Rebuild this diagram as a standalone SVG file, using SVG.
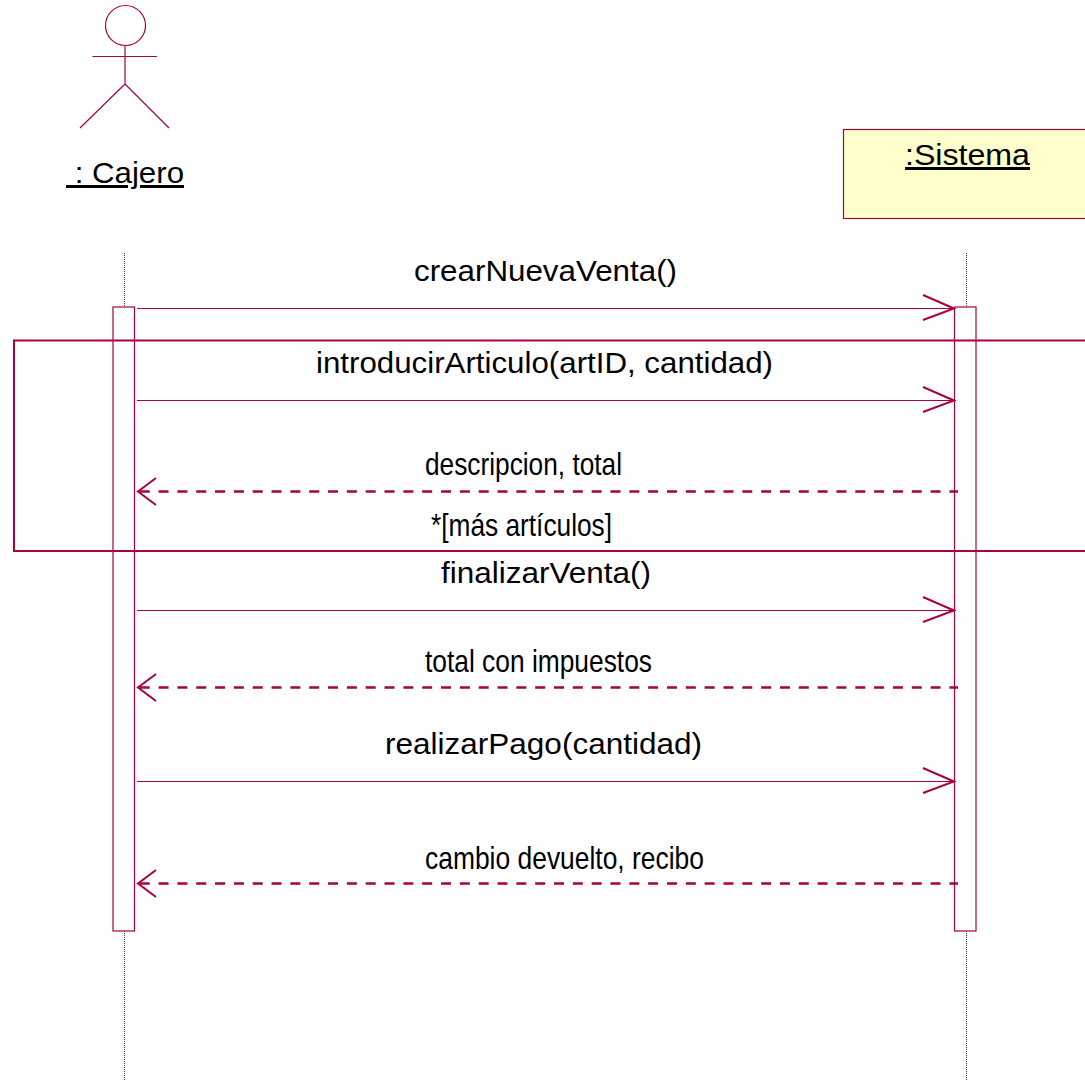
<svg xmlns="http://www.w3.org/2000/svg" width="1085" height="1081" viewBox="0 0 1085 1081">
<style>
.l{fill:none;stroke:#a80042;stroke-width:1.2}
.f{fill:none;stroke:#a80042;stroke-width:2}
.life{fill:none;stroke:#333;stroke-width:1;stroke-dasharray:1 1}
.d{fill:none;stroke:#a80042;stroke-width:2.4;stroke-dasharray:10 8.830;stroke-dashoffset:1.430}
.h{fill:none;stroke:#a80042;stroke-width:2}
text{font-family:"Liberation Sans",Arial,sans-serif;fill:#000;text-anchor:start;font-size:30px}
.s{font-size:32px}
</style>
<rect width="1085" height="1081" fill="#fff"/>
<g id="lifelines">
<path class="life" d="M124.500 253V307M124.500 931V1081M966.500 253V307M966.500 931V1081"/>
</g>
<g id="actor-cajero">
<circle class="l" cx="125.500" cy="25.500" r="20"/>
<path class="l" d="M125 46V84M92.500 56.500H157M125 84L80 128M125 84L169 128"/>
<text x="66" y="183" textLength="118" lengthAdjust="spacingAndGlyphs" text-decoration="underline" xml:space="preserve"> : Cajero</text>
</g>
<g id="object-sistema">
<rect x="843.500" y="129.500" width="245" height="89" fill="#ffffcc" stroke="#a80042" stroke-width="1.200"/>
<text x="905" y="165" textLength="125" lengthAdjust="spacingAndGlyphs" text-decoration="underline">:Sistema</text>
</g>
<g id="activation-cajero"><rect class="l" x="113" y="307" width="21.500" height="624"/></g>
<g id="activation-sistema"><rect class="l" x="954.500" y="307" width="21.500" height="624"/></g>
<g id="loop-frame"><path class="f" d="M1085 340.500H14V551H1085"/></g>
<g id="connectors">
<path class="l" d="M137 308.500H954"/><path class="h" d="M923 295L954 308.500L923 320"/>
<path class="l" d="M137 400.500H954"/><path class="h" d="M923 387L954 400.500L923 412"/>
<path class="d" d="M958 491.500H140"/><path class="h" d="M156 478L138 491.500L156 505"/>
<path class="l" d="M137 610.500H954"/><path class="h" d="M923 597L954 610.500L923 622"/>
<path class="d" d="M958 687.500H140"/><path class="h" d="M156 674L138 687.500L156 701"/>
<path class="l" d="M137 781.500H954"/><path class="h" d="M923 768L954 781.500L923 793"/>
<path class="d" d="M958 883.500H140"/><path class="h" d="M156 870L138 883.500L156 897"/>
</g>
<g id="labels">
<text x="414" y="281" textLength="263" lengthAdjust="spacingAndGlyphs">crearNuevaVenta()</text>
<text x="316" y="373" textLength="457" lengthAdjust="spacingAndGlyphs">introducirArticulo(artID, cantidad)</text>
<text class="s" x="425" y="475" textLength="197" lengthAdjust="spacingAndGlyphs">descripcion, total</text>
<text class="s" x="431" y="536" textLength="181" lengthAdjust="spacingAndGlyphs">*[más artículos]</text>
<text x="441" y="583" textLength="210" lengthAdjust="spacingAndGlyphs">finalizarVenta()</text>
<text class="s" x="425" y="672" textLength="227" lengthAdjust="spacingAndGlyphs">total con impuestos</text>
<text x="385" y="754" textLength="317" lengthAdjust="spacingAndGlyphs">realizarPago(cantidad)</text>
<text class="s" x="425" y="869" textLength="279" lengthAdjust="spacingAndGlyphs">cambio devuelto, recibo</text>
</g>
</svg>
